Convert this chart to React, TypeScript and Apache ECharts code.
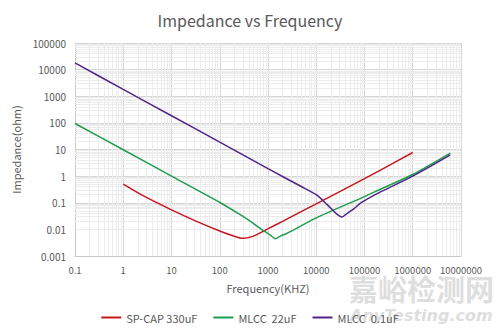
import React, { useEffect, useRef } from "react";
import * as echarts from "echarts";

const titleText = "Impedance vs Frequency";
const xName = "Frequency(KHZ)";
const yName = "Impedance(ohm)";

const seriesNames = ["SP-CAP 330uF", "MLCC  22uF", "MLCC  0.1uF"];
const seriesColors = ["#c8161e", "#1f9d50", "#4f2587"];

// SP-CAP 330uF
const spcapFreq = [1, 2.63, 10, 34, 103, 200, 295, 500, 966, 2000, 12300, 100000, 219000, 1000000];
const spcapZ = [0.5, 0.18, 0.054, 0.0195, 0.0085, 0.0055, 0.0046, 0.0056, 0.0102, 0.02, 0.111, 0.8, 1.73, 7.7];

// MLCC 22uF
const mlcc22Freq = [0.1, 1, 10, 103, 250, 434, 822, 1100, 1440, 1800, 2520, 10000, 100000, 219000, 1000000, 6000000];
const mlcc22Z = [95, 9.8, 1.0, 0.1, 0.038, 0.02, 0.0087, 0.0062, 0.0044, 0.0056, 0.0072, 0.027, 0.17, 0.33, 1.15, 7.3];

// MLCC 0.1uF
const mlcc01Freq = [0.1, 1, 10, 100, 1000, 5000, 10000, 17000, 23400, 28000, 33900, 39000, 44700, 60000, 84000, 219000, 1000000, 6000000];
const mlcc01Z = [17800, 1800, 185, 19, 1.9, 0.4, 0.2, 0.083, 0.047, 0.035, 0.029, 0.034, 0.041, 0.059, 0.098, 0.26, 1.0, 6.3];

const xMin = 0.1;
const xMax = 10000000;
const yMin = 0.001;
const yMax = 100000;

function pairs(f: number[], z: number[]) {
  return f.map((v, i) => [v, z[i]]);
}

function minorValues(lo: number, hi: number) {
  const out: number[] = [];
  for (let d = lo; d < hi; d *= 10) {
    for (let k = 2; k <= 9; k++) out.push(Number((k * d).toPrecision(6)));
  }
  return out;
}

function fmt(v: number) {
  const n = Number(Number(v).toPrecision(6));
  return n >= 1 ? n.toFixed(0) : String(n);
}

export default function App() {
  const ref = useRef<HTMLDivElement>(null);
  useEffect(() => {
    if (!ref.current) return;
    const chart = echarts.init(ref.current, null, { renderer: "svg" });
    const font = "'Noto Sans CJK SC', 'Noto Sans', sans-serif";
    const labelColor = "#595959";
    const mk = (name: string, color: string, f: number[], z: number[]) => ({
      name,
      type: "line",
      data: pairs(f, z),
      showSymbol: false,
      symbol: "none",
      smooth: 0.25,
      z: 3,
      lineStyle: { color, width: 1.5 },
      itemStyle: { color },
    });
    chart.setOption({
      animation: false,
      textStyle: { fontFamily: font },
      title: {
        text: titleText,
        left: "center",
        top: 7,
        textStyle: { fontSize: 16, fontWeight: "normal", color: labelColor, fontFamily: font },
      },
      grid: { left: 75, right: 39, top: 43, bottom: 77 },
      legend: {
        data: seriesNames,
        left: "center",
        top: 307,
        itemWidth: 20,
        itemHeight: 10,
        itemGap: 16,
        icon: "path://M0,4 L20,4 L20,6 L0,6 Z",
        textStyle: { fontSize: 11, color: labelColor, fontFamily: font },
      },
      graphic: [
        {
          type: "text",
          left: 349,
          top: 273,
          z: 0,
          silent: true,
          style: {
            text: "嘉峪检测网",
            fontSize: 29,
            fontWeight: "bold",
            fill: "#dedede",
            fontFamily: "'Noto Sans CJK SC', sans-serif",
          },
        },
        {
          type: "text",
          left: 350,
          top: 307,
          z: 0,
          silent: true,
          style: {
            text: "AnyTesting.com",
            fontSize: 16,
            fontStyle: "italic",
            fontWeight: "bold",
            fill: "#dedede",
            fontFamily: "'DejaVu Sans', sans-serif",
          },
        },
      ],
      xAxis: {
        type: "log",
        logBase: 10,
        min: xMin,
        max: xMax,
        name: xName,
        nameLocation: "middle",
        nameGap: 26,
        nameTextStyle: { fontSize: 11, color: labelColor, fontFamily: font },
        axisLine: { show: true, lineStyle: { color: "#c8c8c8" } },
        axisTick: { show: false },
        axisLabel: { fontSize: 9.5, color: labelColor, margin: 9, formatter: fmt, fontFamily: font },
        splitLine: { show: true, lineStyle: { color: "#d6d6d6", width: 1 } },
      },
      yAxis: {
        type: "log",
        logBase: 10,
        min: yMin,
        max: yMax,
        name: yName,
        nameLocation: "middle",
        nameGap: 43,
        nameTextStyle: { fontSize: 11, color: labelColor, fontFamily: font },
        axisLine: { show: true, lineStyle: { color: "#c8c8c8" } },
        axisTick: { show: false },
        axisLabel: { fontSize: 10, color: labelColor, margin: 9, formatter: fmt, fontFamily: font },
        splitLine: { show: true, lineStyle: { color: "#d6d6d6", width: 1 } },
      },
      series: [
        {
          name: "__grid",
          type: "line",
          data: [[1, 1]],
          symbol: "none",
          showSymbol: false,
          silent: true,
          lineStyle: { width: 0, opacity: 0 },
          z: 1,
          markLine: {
            silent: true,
            z: 1,
            symbol: ["none", "none"],
            label: { show: false },
            emphasis: { disabled: true },
            lineStyle: { color: "#ececec", width: 1, type: "solid" },
            data: [
              ...minorValues(xMin, xMax).map((v) => ({ xAxis: v })),
              ...minorValues(yMin, yMax).map((v) => ({ yAxis: v })),
            ],
          },
        },
        mk(seriesNames[0], seriesColors[0], spcapFreq, spcapZ),
        mk(seriesNames[1], seriesColors[1], mlcc22Freq, mlcc22Z),
        mk(seriesNames[2], seriesColors[2], mlcc01Freq, mlcc01Z),
      ],
    });
    return () => chart.dispose();
  }, []);
  return <div ref={ref} style={{ width: 500, height: 333, position: "absolute", left: 0, top: 0 }} />;
}
